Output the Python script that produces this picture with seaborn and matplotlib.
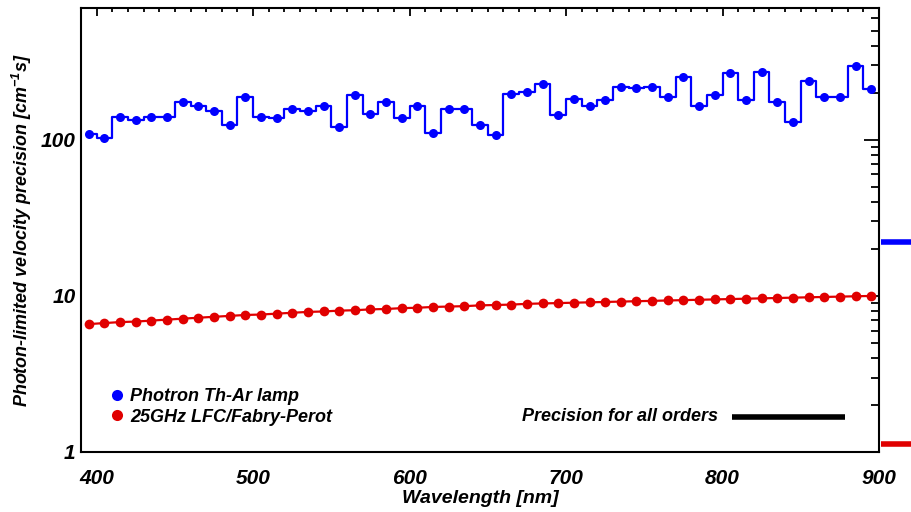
import matplotlib
matplotlib.use("Agg")
import matplotlib.pyplot as plt
from matplotlib.lines import Line2D
from matplotlib.ticker import FixedLocator, NullFormatter, FuncFormatter, MultipleLocator, LogLocator
from matplotlib import font_manager
import seaborn as sns
import pandas as pd
import numpy as np

# ---- data ----
wavelength = [395, 405, 415, 425, 435, 445, 455, 465, 475, 485,
              495, 505, 515, 525, 535, 545, 555, 565, 575, 585,
              595, 605, 615, 625, 635, 645, 655, 665, 675, 685,
              695, 705, 715, 725, 735, 745, 755, 765, 775, 785,
              795, 805, 815, 825, 835, 845, 855, 865, 875, 885, 895]
thar = [109, 103, 140, 134, 140, 140, 175, 166, 152, 125,
        189, 141, 139, 158, 153, 164, 121, 194, 146, 175,
        138, 166, 111, 157, 157, 125, 107, 198, 202, 229,
        144, 184, 166, 181, 219, 214, 219, 189, 254, 164,
        194, 268, 179, 273, 174, 130, 239, 189, 189, 297, 212]
lfc = [6.6, 6.7, 6.8, 6.85, 6.95, 7.05, 7.15, 7.25, 7.35, 7.45,
       7.55, 7.6, 7.7, 7.8, 7.9, 7.95, 8.05, 8.1, 8.2, 8.25,
       8.35, 8.4, 8.5, 8.55, 8.6, 8.7, 8.75, 8.8, 8.9, 8.95,
       9.0, 9.05, 9.1, 9.15, 9.2, 9.25, 9.3, 9.35, 9.4, 9.45,
       9.5, 9.55, 9.6, 9.65, 9.7, 9.75, 9.8, 9.85, 9.9, 9.95, 10.0]
all_orders_thar = 22.0
all_orders_lfc = 1.13
series_labels = ["Photron Th-Ar lamp", "25GHz LFC/Fabry-Perot"]
y_ticks = [1, 10, 100]
x_ticks = [400, 500, 600, 700, 800, 900]

BLUE = "#0000ff"
RED = "#e00000"

sns.set_style("white")
installed = {f.name for f in font_manager.fontManager.ttflist}
main_font = "Liberation Sans Narrow" if "Liberation Sans Narrow" in installed else "Liberation Sans"
plt.rcParams["font.family"] = [main_font, "DejaVu Sans"]
plt.rcParams["font.weight"] = "bold"
plt.rcParams["font.style"] = "italic"
plt.rcParams["mathtext.fontset"] = "custom"
plt.rcParams["mathtext.rm"] = f"{main_font}:bold:italic"
plt.rcParams["mathtext.it"] = f"{main_font}:bold:italic"
plt.rcParams["mathtext.bf"] = f"{main_font}:bold:italic"
plt.rcParams["mathtext.default"] = "it"
for k in ["text.color", "axes.labelcolor", "xtick.color", "ytick.color", "axes.edgecolor"]:
    plt.rcParams[k] = "black"

df_thar = pd.DataFrame({"wavelength": wavelength, "precision": thar})
df_lfc = pd.DataFrame({"wavelength": wavelength, "precision": lfc})

fig = plt.figure(figsize=(9.12, 5.12), dpi=100)
ax = fig.add_axes([0.0888, 0.1172, 0.875, 0.8672])

sns.lineplot(data=df_thar, x="wavelength", y="precision", ax=ax, color=BLUE,
             drawstyle="steps-mid", linewidth=1.6, marker="o", markersize=6.5,
             markeredgewidth=0, zorder=3)
sns.lineplot(data=df_lfc, x="wavelength", y="precision", ax=ax, color=RED,
             linewidth=1.6, marker="o", markersize=7, markeredgewidth=0, zorder=3)

ax.set_yscale("log")
ax.set_xlim(390, 900)
ax.set_ylim(1, 700)

# ticks
ax.xaxis.set_major_locator(FixedLocator(x_ticks))
ax.xaxis.set_minor_locator(MultipleLocator(10))
ax.yaxis.set_major_locator(FixedLocator(y_ticks))
ax.yaxis.set_minor_locator(LogLocator(base=10, subs=np.arange(2, 10)))
ax.yaxis.set_major_formatter(FuncFormatter(lambda v, p: f"{v:g}"))
ax.yaxis.set_minor_formatter(NullFormatter())
ax.tick_params(axis="both", which="both", direction="in", top=True, right=True,
               color="black", width=1.3, labelcolor="black")
ax.tick_params(axis="x", which="major", length=6, labelsize=15, pad=12)
ax.tick_params(axis="x", which="minor", length=3)
ax.tick_params(axis="y", which="major", length=11, labelsize=15, pad=4)
ax.tick_params(axis="y", which="minor", length=5.5)
for lab in ax.get_xticklabels() + ax.get_yticklabels():
    lab.set_fontweight("bold")
    lab.set_fontstyle("italic")

for s in ax.spines.values():
    s.set_visible(True)
    s.set_color("black")
    s.set_linewidth(1.5)

ax.set_xlabel("Wavelength [nm]", fontsize=14, fontweight="bold", fontstyle="italic",
              labelpad=2, color="black")
ax.set_ylabel(r"Photon-limited velocity precision [cm$^{-1}$s]", fontsize=13,
              fontweight="bold", fontstyle="italic", labelpad=5, color="black")

# legend
handles = [Line2D([], [], ls="none", marker="o", color=BLUE, markersize=8, markeredgewidth=0),
           Line2D([], [], ls="none", marker="o", color=RED, markersize=8, markeredgewidth=0)]
leg = ax.legend(handles, series_labels, loc="lower left", bbox_to_anchor=(0.025, 0.043),
                frameon=False, handletextpad=0.2, labelspacing=0.2, borderaxespad=0,
                handlelength=1.0, prop={"size": 13, "weight": "bold", "style": "italic"})
for t in leg.get_texts():
    t.set_color("black")

# "all orders" annotation
ax.text(0.798, 0.081, "Precision for all orders", transform=ax.transAxes, ha="right",
        va="center", fontsize=13, fontweight="bold", fontstyle="italic", color="black")
ax.plot([0.816, 0.957], [0.079, 0.079], transform=ax.transAxes, color="black",
        linewidth=4, solid_capstyle="butt")

# overall precision markers outside the right axis
ax.plot([901, 930], [all_orders_thar, all_orders_thar], color=BLUE, linewidth=4,
        clip_on=False, solid_capstyle="butt")
ax.plot([901, 930], [all_orders_lfc, all_orders_lfc], color=RED, linewidth=4,
        clip_on=False, solid_capstyle="butt")

fig.savefig("out.png", dpi=100)
